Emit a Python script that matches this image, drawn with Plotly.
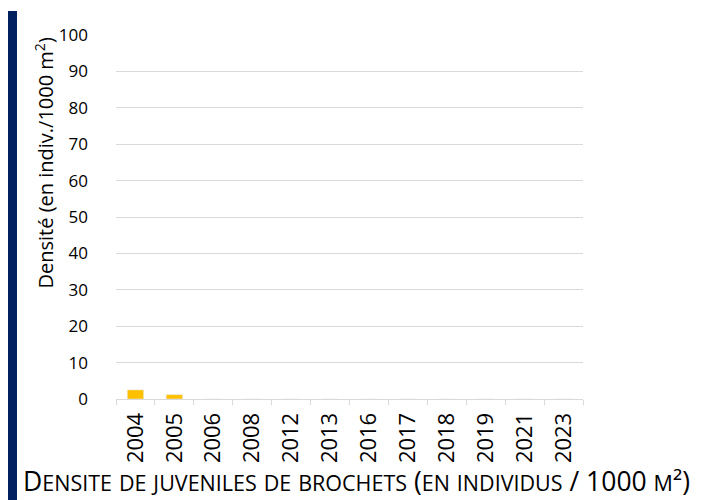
import plotly.graph_objects as go

years = ["2004", "2005", "2006", "2008", "2012", "2013", "2016", "2017", "2018", "2019", "2021", "2023"]
densite = [2.5, 1.2, 0, 0, 0, 0, 0, 0, 0, 0, 0, 0]
y_ticks = [0, 10, 20, 30, 40, 50, 60, 70, 80, 90, 100]

FONT = "Open Sans"
# page has an 8px body margin: figure coordinates are page coordinates minus 8
W, H = 703, 492
L, T, R, B = 108, 27, 128, 101
PW, PH = W - L - R, H - T - B  # 467 x 364

def px(xf):  # figure px -> paper x
    return (xf - L) / PW

def py(yf):  # figure px -> paper y
    return (T + PH - yf) / PH

fig = go.Figure()
fig.add_trace(go.Bar(x=years, y=densite, marker_color="#FFC000", width=0.42))

def smallcaps(text, big=26.5, small=21.5):
    out = []
    for ch in text:
        if ch.islower():
            out.append(f"<span style='font-size:{small}px'>{ch.upper()}</span>")
        else:
            out.append(f"<span style='font-size:{big}px'>{ch}</span>")
    return "".join(out)

fig.update_layout(
    width=W, height=H,
    margin=dict(l=L, r=R, t=T, b=B, pad=0),
    plot_bgcolor="white", paper_bgcolor="white",
    showlegend=False,
    font=dict(family=FONT, color="#000000", size=16),
    shapes=[dict(type="rect", xref="paper", yref="paper",
                 x0=px(0), x1=px(9), y0=py(H), y1=py(3),
                 fillcolor="#002060", line_width=0)],
    annotations=[
        dict(text="Densité (en indiv./1000 m<sup>2</sup>)", xref="paper", yref="paper",
             x=px(35.5), y=py(155), textangle=-90, showarrow=False,
             xanchor="center", yanchor="middle", font=dict(size=20, family=FONT)),
        dict(text=smallcaps("Densite de juveniles de brochets (en individus / 1000 m²)"),
             xref="paper", yref="paper", x=px(13), y=py(H + 1),
             xanchor="left", yanchor="bottom", showarrow=False,
             font=dict(family=FONT, size=26.5)),
    ],
)
fig.update_xaxes(type="category", tickangle=-90, showline=True, linecolor="#d9d9d9",
                 ticks="outside", tickson="boundaries", ticklen=5, tickcolor="#d9d9d9",
                 tickfont=dict(size=22, family=FONT), showgrid=False, automargin=False,
                 ticklabelstandoff=4)
fig.update_yaxes(range=[0, 100], tickvals=y_ticks, showgrid=True, gridcolor="#d9d9d9",
                 zeroline=False, showline=False, ticks="", ticklabelstandoff=27,
                 tickfont=dict(size=17, family=FONT), automargin=False)

fig.write_html("out.html")
